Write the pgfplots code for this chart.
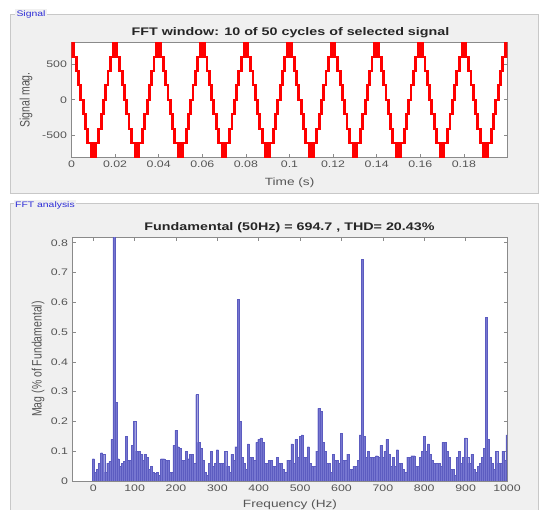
\documentclass[border=0pt]{standalone}
\usepackage{fontspec}
\setmainfont{Liberation Sans}
\usepackage{pgfplots}
\usepackage{pgfplotstable}
\pgfplotsset{compat=1.18}

\definecolor{panelbg}{HTML}{F0F0F0}
\definecolor{panelline}{HTML}{C8C8C8}
\definecolor{axgray}{HTML}{8A8A8A}
\definecolor{ticktext}{HTML}{555555}
\definecolor{titletext}{HTML}{262626}
\definecolor{barfill}{RGB}{118,118,208}
\definecolor{baredge}{RGB}{92,92,192}
\definecolor{paneltitle}{RGB}{45,45,215}

% one 50 Hz period of the stepped signal (switching instants, level)
\pgfplotstableread{
t v
0 800
0.0002 600
0.0004 800
0.0007 600
0.0009 800
0.0011 600
0.00196 400
0.00216 600
0.00236 400
0.00305 200
0.00325 400
0.00345 200
0.00409 0
0.00429 200
0.00449 0
0.00511 -200
0.00531 0
0.00551 -200
0.00615 -400
0.00635 -200
0.00655 -400
0.00724 -600
0.00744 -400
0.00764 -600
0.0089 -800
0.0091 -600
0.0093 -800
0.0096 -600
0.0098 -800
0.0102 -600
0.0104 -800
0.0107 -600
0.0109 -800
0.0111 -600
0.01236 -400
0.01256 -600
0.01276 -400
0.01345 -200
0.01365 -400
0.01385 -200
0.01449 0
0.01469 -200
0.01489 0
0.01551 200
0.01571 0
0.01591 200
0.01655 400
0.01675 200
0.01695 400
0.01764 600
0.01784 400
0.01804 600
0.0189 800
0.0191 600
0.0193 800
0.0196 600
0.0198 800
0.02 800
}\period

% harmonic spectrum, 5 Hz bins
\pgfplotstableread{
f m
0 0.075
5 0.03
10 0.04
15 0.06
20 0.095
25 0.09
30 0.03
35 0.06
40 0.065
45 0.14
50 1.0
55 0.265
60 0.075
65 0.05
70 0.06
75 0.065
80 0.15
85 0.07
90 0.07
95 0.12
100 0.2
105 0.1
110 0.1
115 0.09
120 0.07
125 0.09
130 0.08
135 0.04
140 0.05
145 0.03
150 0.025
155 0.03
160 0.02
165 0.075
170 0.075
175 0.07
180 0.07
185 0.03
190 0.03
195 0.12
200 0.17
205 0.115
210 0.11
215 0.07
220 0.07
225 0.1
230 0.075
235 0.09
240 0.09
245 0.06
250 0.29
255 0.13
260 0.11
265 0.07
270 0.03
275 0.02
280 0.06
285 0.1
290 0.05
295 0.06
300 0.105
305 0.06
310 0.06
315 0.06
320 0.1
325 0.05
330 0.03
335 0.09
340 0.07
345 0.115
350 0.61
355 0.2
360 0.08
365 0.06
370 0.04
375 0.125
380 0.08
385 0.08
390 0.07
395 0.13
400 0.14
405 0.145
410 0.13
415 0.06
420 0.06
425 0.07
430 0.07
435 0.05
440 0.05
445 0.08
450 0.06
455 0.06
460 0.04
465 0.03
470 0.07
475 0.07
480 0.125
485 0.06
490 0.14
495 0.08
500 0.15
505 0.155
510 0.08
515 0.08
520 0.115
525 0.06
530 0.05
535 0.05
540 0.1
545 0.244
550 0.235
555 0.13
560 0.1
565 0.06
570 0.06
575 0.03
580 0.09
585 0.07
590 0.07
595 0.06
600 0.16
605 0.07
610 0.07
615 0.09
620 0.04
625 0.04
630 0.05
635 0.05
640 0.07
645 0.155
650 0.745
655 0.15
660 0.08
665 0.1
670 0.08
675 0.08
680 0.08
685 0.085
690 0.08
695 0.12
700 0.08
705 0.1
710 0.14
715 0.09
720 0.05
725 0.08
730 0.05
735 0.105
740 0.06
745 0.06
750 0.04
755 0.03
760 0.08
765 0.08
770 0.085
775 0.085
780 0.05
785 0.05
790 0.08
795 0.1
800 0.15
805 0.1
810 0.125
815 0.09
820 0.07
825 0.06
830 0.06
835 0.06
840 0.05
845 0.13
850 0.13
855 0.1
860 0.08
865 0.04
870 0.04
875 0.02
880 0.08
885 0.1
890 0.06
895 0.08
900 0.145
905 0.08
910 0.06
915 0.09
920 0.04
925 0.03
930 0.05
935 0.06
940 0.08
945 0.11
950 0.55
955 0.14
960 0.08
965 0.06
970 0.04
975 0.1
980 0.06
985 0.06
990 0.1
995 0.07
1000 0.155
}\fft

\pgfplotsset{
  guiaxis/.style={
    scale only axis,
    anchor=south west,
    axis background/.style={fill=white},
    axis line style={axgray, line width=0.6pt},
    every tick/.style={axgray, line width=0.6pt},
    major tick length=3pt,
    tick align=inside,
    /pgf/number format/assume math mode=true,
    scaled ticks=false,
    tick label style={font=\fontsize{9.5}{10}\selectfont, text=ticktext, xscale=1.3},
  },
}

\begin{document}
\begin{tikzpicture}
\useasboundingbox (0pt,0pt) rectangle (542pt,510pt);
\fill[white] (0pt,0pt) rectangle (542pt,510pt);
% panels
\fill[panelbg] (10pt,317pt) rectangle (538pt,496pt);
\draw[panelline] (10pt,317pt) rectangle (538pt,496pt);
\fill[panelbg] (10pt,-5pt) rectangle (538pt,307pt);
\draw[panelline] (10pt,-5pt) rectangle (538pt,307pt);
\node[fill=panelbg, inner sep=1pt, text=paneltitle, font=\fontsize{8}{9}\selectfont, xscale=1.3] at (31pt,496pt) {Signal};
\node[fill=panelbg, inner sep=1pt, text=paneltitle, font=\fontsize{8}{9}\selectfont, xscale=1.3] at (45pt,305pt) {FFT analysis};

\begin{axis}[guiaxis,
  at={(71.5pt,352.7pt)}, width=436pt, height=115pt,
  xmin=0, xmax=0.2, ymin=-800, ymax=800,
  xtick={0,0.02,0.04,0.06,0.08,0.1,0.12,0.14,0.16,0.18},
  xticklabels={0,0.02,0.04,0.06,0.08,0.1,0.12,0.14,0.16,0.18},
  ytick={-500,0,500},
]
\pgfplotsinvokeforeach{0,...,9}{
  \addplot[const plot, draw=red, line width=2pt, no marks]
    table[x expr=\thisrow{t}+#1*0.02, y=v] {\period};
}
\end{axis}

\begin{axis}[guiaxis,
  at={(72.6pt,29pt)}, width=434.4pt, height=243.3pt,
  xmin=-50, xmax=1000, ymin=0, ymax=0.817,
  xtick={0,100,200,300,400,500,600,700,800,900,1000},
  xticklabels={0,100,200,300,400,500,600,700,800,900,1000},
  ytick={0,0.1,0.2,0.3,0.4,0.5,0.6,0.7,0.8},
  yticklabels={0,0.1,0.2,0.3,0.4,0.5,0.6,0.7,0.8},
]
\addplot[ybar, bar width=5, bar shift=0pt, fill=barfill, draw=baredge, line width=0.3pt]
  table[x=f, y=m] {\fft};
\end{axis}

% titles and axis labels
\node[font=\fontsize{11}{13}\bfseries\selectfont, text=titletext, xscale=1.3] at (290.5pt,477pt) {FFT window: 10 of 50 cycles of selected signal};
\node[font=\fontsize{11}{13}\bfseries\selectfont, text=titletext, xscale=1.3] at (289.5pt,282pt) {Fundamental (50Hz) = 694.7 , THD= 20.43\%};
\node[font=\fontsize{10.5}{12}\selectfont, text=ticktext, xscale=1.3] at (289.6pt,327pt) {Time (s)};
\node[font=\fontsize{10.5}{12}\selectfont, text=ticktext, xscale=1.3] at (290pt,5pt) {Frequency (Hz)};
\node[font=\fontsize{10.5}{12}\selectfont, text=ticktext, rotate=90, yscale=1.3] at (26pt,410pt) {Signal mag.};
\node[font=\fontsize{10.5}{12}\selectfont, text=ticktext, rotate=90, yscale=1.3] at (38pt,151pt) {Mag (\% of Fundamental)};
\end{tikzpicture}
\end{document}
